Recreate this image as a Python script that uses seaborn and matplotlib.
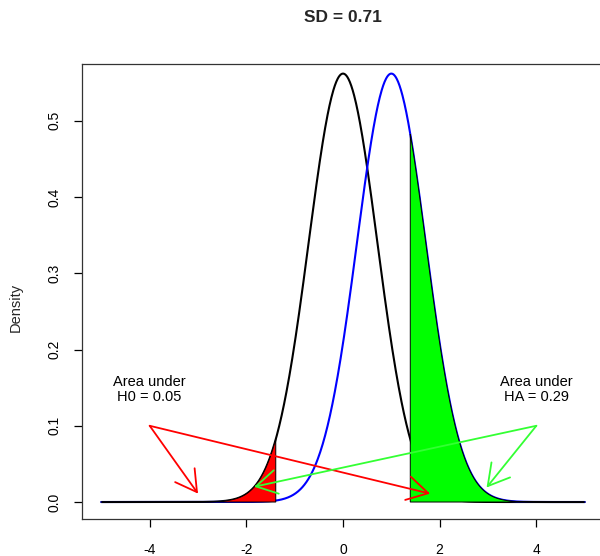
import math
import numpy as np
import pandas as pd
import matplotlib
matplotlib.use("Agg")
import matplotlib.pyplot as plt
import seaborn as sns

# Distribution parameters
h0_mean = 0.0
ha_mean = 1.0
sd = 0.71
alpha = 0.05
z_crit = 1.959964  # two-sided 5% quantile of the standard normal
x_range = [-5.0, 5.0]

# Annotation texts and arrow endpoints (data coordinates)
h0_label = "Area under\nH0 = 0.05"
ha_label = "Area under\nHA = 0.29"
h0_label_pos = [-4.0, 0.148]
ha_label_pos = [4.0, 0.148]
h0_arrow_start = [-4.0, 0.1]
h0_arrow_ends = [[-3.0, 0.011], [1.8, 0.011]]
ha_arrow_start = [4.0, 0.1]
ha_arrow_ends = [[2.97, 0.019], [-1.84, 0.02]]


def norm_pdf(x, mu, s):
    return np.exp(-0.5 * ((x - mu) / s) ** 2) / (s * math.sqrt(2 * math.pi))


crit = z_crit * sd
x = np.linspace(x_range[0], x_range[1], 1001)
df = pd.DataFrame({
    "x": np.concatenate([x, x]),
    "Density": np.concatenate([norm_pdf(x, h0_mean, sd), norm_pdf(x, ha_mean, sd)]),
    "hyp": ["H0"] * len(x) + ["HA"] * len(x),
})

sns.set_style("white")
plt.rcParams["font.family"] = ["Liberation Sans", "DejaVu Sans"]

fig = plt.figure(figsize=(6.0, 5.56), dpi=100)
ax = fig.add_axes([0.1367, 0.0665, 0.87, 0.8183])

sns.lineplot(data=df, x="x", y="Density", hue="hyp",
             palette={"H0": "black", "HA": "blue"}, linewidth=1.5,
             legend=False, ax=ax, zorder=2, sort=False, estimator=None)

# Rejection region under H0 (left tail) and power region under HA,
# drawn over the curves with a thin black outline
xl = np.append(x[x <= -crit], -crit)
yl = norm_pdf(xl, h0_mean, sd)
ax.fill(np.concatenate([xl, [-crit, xl[0]]]), np.concatenate([yl, [0, 0]]),
        facecolor="red", edgecolor="black", linewidth=0.7, zorder=3)

xr = np.concatenate([[crit], x[x >= crit]])
yr = norm_pdf(xr, ha_mean, sd)
ax.fill(np.concatenate([[crit], xr, [xr[-1]]]), np.concatenate([[0], yr, [0]]),
        facecolor="#00ff00", edgecolor="black", linewidth=0.7, zorder=3)

# Annotations
ax.text(*h0_label_pos, h0_label, ha="center", va="center", fontsize=10.5,
        linespacing=1.1, color="black")
ax.text(*ha_label_pos, ha_label, ha="center", va="center", fontsize=10.5,
        linespacing=1.1, color="black")

arrow_style = "->,head_length=1.5,head_width=0.86"
for end in h0_arrow_ends:
    ax.annotate("", xy=end, xytext=h0_arrow_start,
                arrowprops=dict(arrowstyle=arrow_style, color="red", lw=1.3,
                                shrinkA=0, shrinkB=0, mutation_scale=10), zorder=4)
for end in ha_arrow_ends:
    ax.annotate("", xy=end, xytext=ha_arrow_start,
                arrowprops=dict(arrowstyle=arrow_style, color="#33ff33", lw=1.3,
                                shrinkA=0, shrinkB=0, mutation_scale=10), zorder=4)

ax.set_xlim(-5.4, 5.4)
ax.set_ylim(-0.0223, 0.5744)
ax.set_xticks([-4, -2, 0, 2, 4])
ax.set_xticklabels(["-4", "-2", "0", "2", "4"])
ax.set_yticks([0.0, 0.1, 0.2, 0.3, 0.4, 0.5])
ax.set_yticklabels(["0.0", "0.1", "0.2", "0.3", "0.4", "0.5"], rotation=90, va="center")
ax.tick_params(axis="x", direction="out", length=5.5, width=0.9, labelsize=10,
               bottom=True, pad=12, colors="black")
ax.tick_params(axis="y", direction="out", length=5.5, width=0.9, labelsize=10,
               left=True, pad=9, colors="black")
ax.set_xlabel("")
ax.set_ylabel("")
fig.text(16 / 600, 1 - 307 / 556, "Density", rotation=90, ha="center", va="center",
         fontsize=10.5)
for sp in ax.spines.values():
    sp.set_visible(True)
    sp.set_color("#333333")
    sp.set_linewidth(0.9)
fig.text(343 / 600, 1 - 17 / 556, "SD = 0.71", ha="center", va="center",
         fontsize=12.5, fontweight="bold")

fig.savefig("out.png", dpi=100)
